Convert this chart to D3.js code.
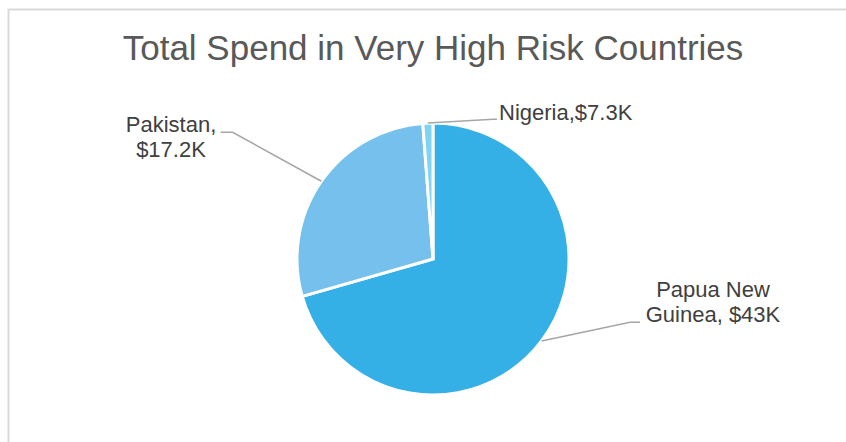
<!DOCTYPE html>
<html>
<head>
<meta charset="utf-8">
<script src="https://cdn.jsdelivr.net/npm/d3@7"></script>
<style>
  html, body { margin: 0; padding: 0; background: #fff; }
  svg { display: block; }
  text { font-family: "Liberation Sans", Arial, sans-serif; }
</style>
</head>
<body>
<svg id="chart" width="846" height="442"></svg>
<script>
// ---- data ----
const titleText = "Total Spend in Very High Risk Countries";
const categories = ["Papua New Guinea", "Pakistan", "Nigeria"];
const values = [43000, 17200, 730];             // slice sizes
const labelLines = [
  ["Papua New", "Guinea, $43K"],
  ["Pakistan,", "$17.2K"],
  ["Nigeria,$7.3K"]
];
const colors = ["#35B0E6", "#75C0EC", "#7FD4F5"];

// ---- layout ----
const W = 846, H = 442;
const cx = 433, cy = 259, R = 136;
const svg = d3.select("#chart");

// chart border (extends past right/bottom edges)
svg.append("rect")
  .attr("x", 8.5).attr("y", 9.5)
  .attr("width", W + 20).attr("height", H + 20)
  .attr("fill", "none").attr("stroke", "#D9D9D9").attr("stroke-width", 2);

// title
svg.append("text")
  .attr("x", 433).attr("y", 59.5)
  .attr("text-anchor", "middle")
  .attr("font-size", 35)
  .attr("fill", "#595959")
  .text(titleText);

const pie = d3.pie().sort(null).value(d => d)(values);
const arc = d3.arc().innerRadius(0).outerRadius(R);

const g = svg.append("g").attr("transform", `translate(${cx},${cy})`);
g.selectAll("path.slice")
  .data(pie)
  .join("path")
  .attr("class", "slice")
  .attr("d", arc)
  .attr("fill", (d, i) => colors[i])
  .attr("stroke", "#fff")
  .attr("stroke-width", 3)
  .attr("stroke-linejoin", "miter");

// label placement (layout constants)
const labelPos = [
  { x: 713, y: 296.5, anchor: "middle", elbow: [630, 322.3], end: [640, 322.3] },
  { x: 171, y: 131.5, anchor: "middle", elbow: [232.7, 132.3], end: [220.7, 132.3] },
  { x: 499, y: 120,   anchor: "start",  elbow: [493, 119.3], end: [497, 119.3] }
];

pie.forEach((d, i) => {
  const mid = (d.startAngle + d.endAngle) / 2;
  const p0 = [cx + R * Math.sin(mid), cy - R * Math.cos(mid)];
  const lp = labelPos[i];
  svg.append("polyline")
    .attr("points", [p0, lp.elbow, lp.end].map(p => p.join(",")).join(" "))
    .attr("fill", "none")
    .attr("stroke", "#A6A6A6")
    .attr("stroke-width", 1.5);
  const t = svg.append("text")
    .attr("x", lp.x).attr("y", lp.y)
    .attr("text-anchor", lp.anchor)
    .attr("font-size", 22)
    .attr("fill", "#404040");
  labelLines[i].forEach((line, j) => {
    t.append("tspan").attr("x", lp.x).attr("dy", j === 0 ? 0 : 25.5).text(line);
  });
});
</script>
</body>
</html>
